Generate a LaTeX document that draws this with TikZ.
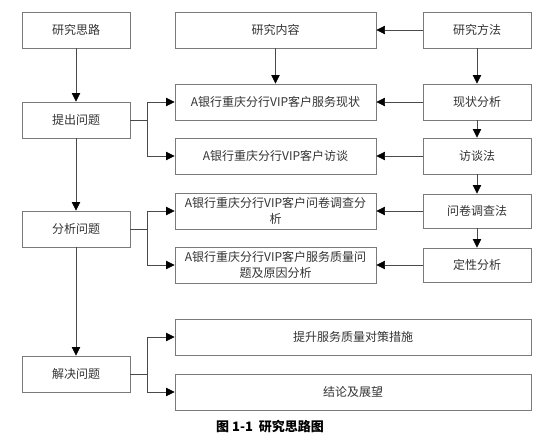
\documentclass[tikz,border=0pt]{standalone}
\usepackage{fontspec}
\setmainfont{Noto Sans CJK SC}
\usetikzlibrary{arrows.meta}
\definecolor{boxline}{HTML}{7A7A7A}
\definecolor{conn}{HTML}{4A4A4A}
\tikzset{box/.style={draw=boxline,line width=0.9pt,minimum width=108pt,minimum height=36pt,inner sep=2pt,text=black!80,font=\fontsize{12}{16}\selectfont},
         mid/.style={box,minimum width=201pt,text width=193pt,align=center},
         wide/.style={box,minimum width=356pt},
         arr/.style={draw=conn,line width=0.7pt,-{Triangle[length=8.5pt,width=8.5pt,color=black]}},
        }

\begin{document}
\begin{tikzpicture}[x=1pt,y=-1pt]
        \useasboundingbox(0,0)rectangle(546,445);
        % left column
        \node[box](si)at(76,30){研究思路};
        \node[box](tc)at(76,120){提出问题};
        \node[box](fx)at(76,229){分析问题};
        \node[box](jj)at(76,374){解决问题};
        % middle column
        \node[mid](nr)at(275.5,30){研究内容};
        \node[mid](m1)at(275.5,102){A银行重庆分行VIP客户服务现状};
        \node[mid](m2)at(275.5,156){A银行重庆分行VIP客户访谈};
        \node[mid](m3)at(275.5,211){A银行重庆分行VIP客户问卷调查分\\析};
        \node[mid](m4)at(275.5,265){A银行重庆分行VIP客户服务质量问\\题及原因分析};
        \node[wide](m5)at(353,337){提升服务质量对策措施};
        \node[wide](m6)at(353,392){结论及展望};
        % right column
        \node[box](ff)at(477,30){研究方法};
        \node[box](r1)at(477,102){现状分析};
        \node[box](r2)at(477,156){访谈法};
        \node[box,minimum height=34pt](r3)at(477,211){问卷调查法};
        \node[box,minimum height=34pt](r4)at(477,265){定性分析};

        \node[font=\fontsize{13}{16}\selectfont\bfseries](cap)at(270,427){图 1-1\ \ 研究思路图};

        \draw[arr](si)--(tc);
        \draw[arr](tc)--(fx);
        \draw[arr](fx)--(jj);
        \draw[arr](nr)--(m1);
        \draw[arr](ff)--(nr);
        \draw[arr](ff)--(r1);
        \draw[arr](r1)--(r2);
        \draw[arr](r2)--(r3);
        \draw[arr](r3)--(r4);
        \draw[arr](r1)--(m1);
        \draw[arr](r2)--(m2);
        \draw[arr](r3)--(m3);
        \draw[arr](r4)--(m4);

        \draw[arr](tc.east)--++(17,0)|-(m1.west);
        \draw[arr](tc.east)--++(17,0)|-(m2.west);
        \draw[arr](fx.east)--++(17,0)|-(m3.west);
        \draw[arr](fx.east)--++(17,0)|-(m4.west);
        \draw[arr](jj.east)--++(17,0)|-(m5.west);
        \draw[arr](jj.east)--++(17,0)|-(m6.west);
    \end{tikzpicture}
\end{document}
